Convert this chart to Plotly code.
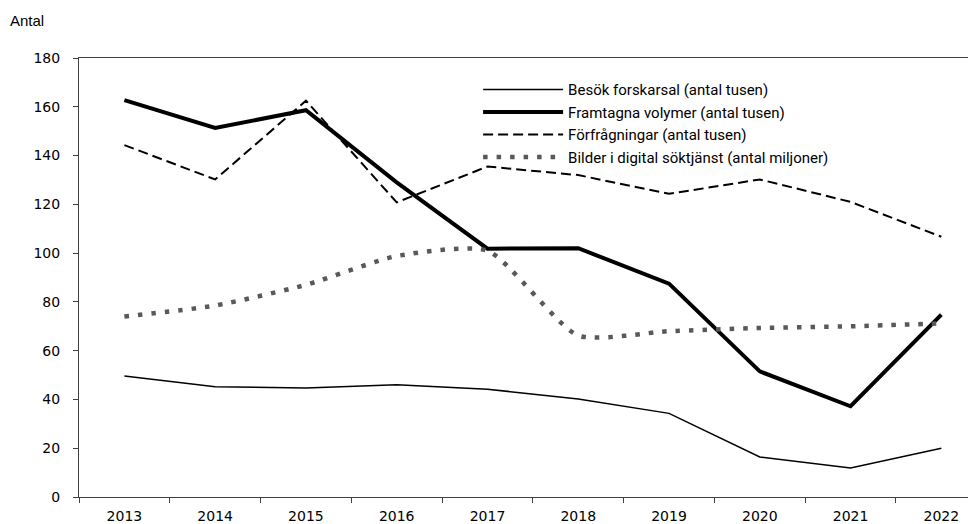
import plotly.graph_objects as go

years = ["2013", "2014", "2015", "2016", "2017", "2018", "2019", "2020", "2021", "2022"]

besok = [49.6, 45.2, 44.7, 46.0, 44.2, 40.2, 34.3, 16.4, 11.9, 20.0]
framtagna = [162.7, 151.3, 158.6, 129.0, 101.8, 102.0, 87.5, 51.5, 37.2, 74.8]
forfragningar = [144.3, 130.2, 162.5, 120.8, 135.5, 132.0, 124.3, 130.2, 121.0, 106.7]
bilder = [74.0, 78.5, 87.0, 98.8, 101.0, 66.2, 68.0, 69.3, 70.0, 71.2]

names = ["Besök forskarsal (antal tusen)",
         "Framtagna volymer (antal tusen)",
         "Förfrågningar (antal tusen)",
         "Bilder i digital söktjänst (antal miljoner)"]

fig = go.Figure()
fig.add_trace(go.Scatter(x=years, y=besok, name=names[0], mode="lines",
                         line=dict(color="black", width=1.5)))
fig.add_trace(go.Scatter(x=years, y=framtagna, name=names[1], mode="lines",
                         line=dict(color="black", width=4)))
fig.add_trace(go.Scatter(x=years, y=forfragningar, name=names[2], mode="lines",
                         line=dict(color="black", width=2, dash="10px,5px")))
fig.add_trace(go.Scatter(x=years, y=bilder, name=names[3], mode="lines",
                         line=dict(color="#595959", width=4.5, dash="4.5px,9px",
                                   shape="spline", smoothing=0.6)))

# the page body has an 8px margin, so offsets are relative to that
fig.update_layout(
    width=976, height=524,
    margin=dict(l=71, r=0, t=50, b=35),
    paper_bgcolor="white", plot_bgcolor="white",
    font=dict(family="DejaVu Sans", size=14, color="black"),
    showlegend=True,
    legend=dict(x=0.441, y=0.965, xanchor="left", yanchor="top",
                bgcolor="rgba(0,0,0,0)", font=dict(family="Roboto", size=15),
                tracegroupgap=0, itemwidth=80),
)
fig.add_annotation(text="Antal", xref="paper", yref="paper", x=-71 / 905, y=1 + 38 / 439,
                   xanchor="left", yanchor="middle", showarrow=False,
                   font=dict(family="Liberation Sans", size=15))

fig.update_xaxes(type="category", range=[-0.5, 9.47], tickson="boundaries",
                 ticks="outside", ticklen=5, tickcolor="#404040", ticklabelstandoff=6,
                 showline=True, mirror=True, linecolor="#404040", linewidth=1,
                 showgrid=False, zeroline=False, tickfont=dict(size=14))
fig.update_yaxes(range=[0, 180], dtick=20, ticks="outside", ticklen=5, tickcolor="#404040",
                 ticklabelstandoff=10,
                 showline=True, linecolor="#404040", linewidth=1,
                 showgrid=False, zeroline=False, tickfont=dict(size=14))

fig.write_html("out.html")
